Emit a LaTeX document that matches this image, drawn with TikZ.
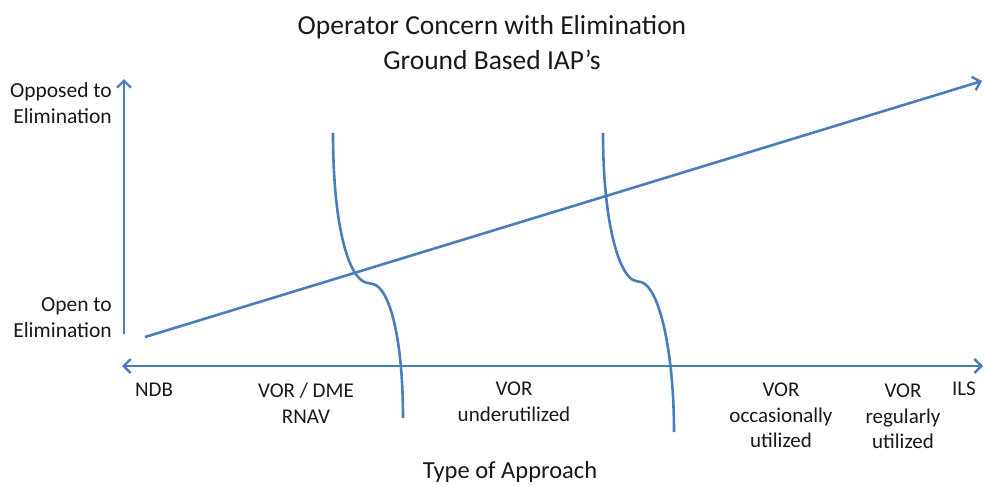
\documentclass[tikz,border=0pt]{standalone}
\usepackage{fontspec}
\setmainfont{Carlito}
\usetikzlibrary{arrows.meta}
\definecolor{lineblue}{RGB}{74,126,187}
\definecolor{txt}{RGB}{25,25,25}
\tikzset{
  barb/.tip={Straight Barb[length=7pt,width=14pt,line width=2.4pt]},
  axis/.style={draw=lineblue, line width=2.6pt, -barb},
  curveline/.style={draw=lineblue, line width=2.6pt},
  lbl/.style={text=txt, align=center, font=\fontsize{21}{25.5}\selectfont, inner sep=0pt},
  rlbl/.style={text=txt, align=right, font=\fontsize{21.5}{26}\selectfont, inner sep=0pt},
  ttl/.style={text=txt, align=center, font=\fontsize{27.5}{35}\selectfont, inner sep=0pt}
}
\begin{document}
\begin{tikzpicture}[x={(1pt,0)}, y={(0,-1pt)}]
\useasboundingbox[fill=white] (0,0) rectangle (984,485);

% title
\node[ttl] (title) at (492,43) {Operator Concern with Elimination\\Ground Based IAP’s};

% axes
\coordinate (yb) at (124,334);
\coordinate (yt) at (124,79);
\coordinate (xr) at (983,366);
\coordinate (xl) at (122,366);
\coordinate (ds) at (145,337);
\coordinate (de) at (982,81);
\draw[axis] (yb) -- (yt);
\draw[axis, barb-barb] (xl) -- (xr);
\draw[axis] (ds) -- (de);

% curves
\coordinate (a0) at (333,133);
\coordinate (a1) at (360,279);
\coordinate (a2) at (373,284);
\coordinate (a3) at (403,418);
\draw[curveline] (a0) .. controls (333,215) and (345,265) .. (a1)
  .. controls (364,283) and (368,283) .. (a2)
  .. controls (390,288) and (403,340) .. (a3);

\coordinate (b0) at (603,133);
\coordinate (b1) at (633,280);
\coordinate (b2) at (645,284);
\coordinate (b3) at (674,432);
\draw[curveline] (b0) .. controls (603,220) and (618,272) .. (b1)
  .. controls (637,282) and (641,281) .. (b2)
  .. controls (662,297) and (674,360) .. (b3);

% y labels
\node[rlbl, anchor=east] (opp) at (112,103) {Opposed to\\Elimination};
\node[rlbl, anchor=east] (open) at (112,318) {Open to\\Elimination};

% x labels
\node[lbl, anchor=north] (ndb) at (154,383) {NDB};
\node[lbl, anchor=north] (vordme) at (306,383) {VOR / DME\\RNAV};
\node[lbl, anchor=north] (vorund) at (514,382) {VOR\\underutilized};
\node[lbl, anchor=north] (vorocc) at (781,383) {VOR\\occasionally\\utilized};
\node[lbl, anchor=north] (vorreg) at (903,384) {VOR\\regularly\\utilized};
\node[lbl, anchor=north] (ils) at (964,382) {ILS};

\node[lbl, font=\fontsize{24.5}{28}\selectfont] (xtitle) at (510,472) {Type of Approach};
\end{tikzpicture}
\end{document}
